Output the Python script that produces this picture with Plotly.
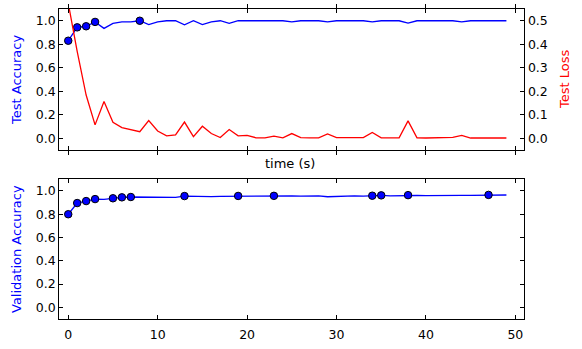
import plotly.graph_objects as go

epochs = list(range(50))
test_acc = [0.83, 0.944, 0.953, 0.99, 0.935, 0.978, 0.99, 0.99, 1.0, 0.967,
            0.99, 1.0, 1.0, 0.966, 1.0, 0.967, 0.99, 1.0, 0.978, 1.0,
            1.0, 1.0, 1.0, 1.0, 1.0, 0.99, 1.0, 1.0, 1.0, 0.99,
            1.0, 1.0, 1.0, 1.0, 0.99, 1.0, 1.0, 1.0, 0.98, 1.0,
            1.0, 1.0, 1.0, 1.0, 0.99, 1.0, 1.0, 1.0, 1.0, 1.0]
test_loss = [0.575, 0.37, 0.184, 0.057, 0.156, 0.068, 0.045, 0.037, 0.028, 0.075,
             0.031, 0.010, 0.014, 0.069, 0.007, 0.051, 0.020, 0.003, 0.037, 0.010,
             0.012, 0.002, 0.002, 0.009, 0.002, 0.020, 0.003, 0.002, 0.002, 0.018,
             0.003, 0.003, 0.002, 0.003, 0.025, 0.002, 0.002, 0.002, 0.074, 0.002,
             0.001, 0.002, 0.006, 0.004, 0.012, 0.001, 0.001, 0.001, 0.001, 0.001]
val_acc = [0.80, 0.896, 0.913, 0.930, 0.928, 0.937, 0.945, 0.948, 0.947, 0.946,
           0.947, 0.946, 0.944, 0.956, 0.953, 0.952, 0.952, 0.953, 0.954, 0.957,
           0.952, 0.953, 0.956, 0.958, 0.957, 0.957, 0.955, 0.957, 0.958, 0.950,
           0.954, 0.955, 0.957, 0.955, 0.959, 0.962, 0.958, 0.960, 0.964, 0.961,
           0.959, 0.961, 0.962, 0.962, 0.962, 0.962, 0.963, 0.966, 0.965, 0.965]
test_marks = [0, 1, 2, 3, 8]
val_marks = [0, 1, 2, 3, 5, 6, 7, 13, 19, 23, 34, 35, 38, 47]

acc_ticks = [0.0, 0.2, 0.4, 0.6, 0.8, 1.0]
loss_ticks = [0.0, 0.1, 0.2, 0.3, 0.4, 0.5]
x_ticks = [0, 10, 20, 30, 40, 50]

BLUE = "#0000ff"
RED = "#ff0000"
FONT = "DejaVu Sans"

fig = go.Figure()
fig.add_trace(go.Scatter(x=epochs, y=test_acc, mode="lines", line=dict(color=BLUE, width=1.3),
                         xaxis="x", yaxis="y"))
fig.add_trace(go.Scatter(x=epochs, y=test_loss, mode="lines", line=dict(color=RED, width=1.3),
                         xaxis="x", yaxis="y3"))
fig.add_trace(go.Scatter(x=test_marks, y=[test_acc[i] for i in test_marks], mode="markers",
                         marker=dict(color=BLUE, size=7.5, line=dict(color="black", width=1)),
                         xaxis="x", yaxis="y"))
fig.add_trace(go.Scatter(x=epochs, y=val_acc, mode="lines", line=dict(color=BLUE, width=1.3),
                         xaxis="x2", yaxis="y2"))
fig.add_trace(go.Scatter(x=val_marks, y=[val_acc[i] for i in val_marks], mode="markers",
                         marker=dict(color=BLUE, size=7.5, line=dict(color="black", width=1)),
                         xaxis="x2", yaxis="y2"))

W, H = 582, 349
xd = [59.3 / W, 524.3 / W]
top_d = [1 - 150 / H, 1 - 9 / H]
bot_d = [1 - 319 / H, 1 - 179.3 / H]

axcommon = dict(showgrid=False, zeroline=False, showline=True, linecolor="black", linewidth=1.2,
                ticks="inside", ticklen=4, tickwidth=1, tickcolor="black",
                tickfont=dict(family=FONT, size=12.5, color="black"))

def label(text, px, py, color, angle=0):
    return dict(text=text, x=px / W, y=1 - py / H, xref="paper", yref="paper",
                xanchor="center", yanchor="middle", textangle=angle, showarrow=False,
                font=dict(family=FONT, size=13, color=color))

fig.update_layout(
    width=W, height=H, margin=dict(l=0, r=0, t=0, b=0),
    paper_bgcolor="white", plot_bgcolor="white", showlegend=False,
    font=dict(family=FONT, color="black"),
    xaxis=dict(domain=xd, anchor="y", range=[-1, 51], tickvals=x_ticks, showticklabels=False,
               mirror="allticks", **axcommon),
    yaxis=dict(domain=top_d, anchor="x", range=[-0.1, 1.1], tickvals=acc_ticks,
               tickformat=".1f", mirror=True, **axcommon),
    yaxis3=dict(overlaying="y", side="right", anchor="x", range=[-0.05, 0.55], tickvals=loss_ticks,
                tickformat=".1f", **axcommon),
    xaxis2=dict(domain=xd, anchor="y2", range=[-1, 51], tickvals=x_ticks, mirror="allticks",
                ticklabelstandoff=4, **axcommon),
    yaxis2=dict(domain=bot_d, anchor="x2", range=[-0.1, 1.1], tickvals=acc_ticks,
                tickformat=".1f", mirror="allticks", **axcommon),
    annotations=[
        label("Test Accuracy", 16, 80, BLUE, -90),
        label("Test Loss", 564, 80, RED, -90),
        label("Validation Accuracy", 16, 249, BLUE, -90),
        label("time (s)", 290, 164, "black"),
    ],
)

fig.write_html("out.html")
